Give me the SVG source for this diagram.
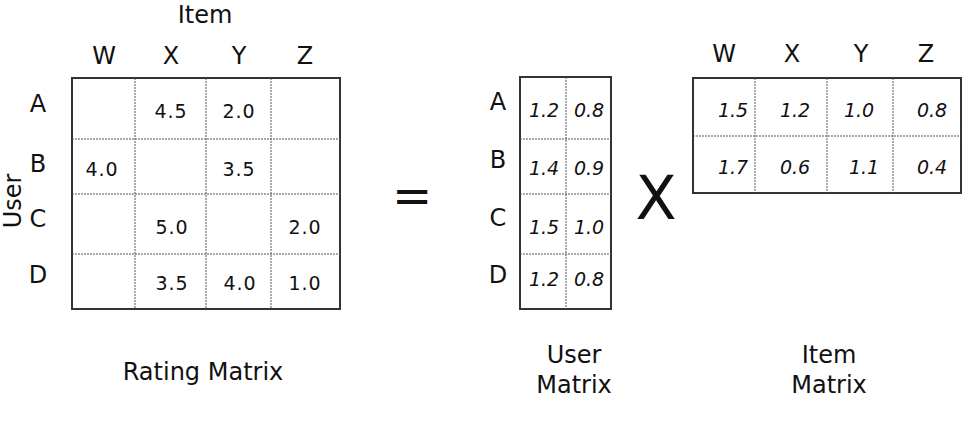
<svg xmlns="http://www.w3.org/2000/svg" width="972" height="426" viewBox="0 0 972 426">
<style>
text{font-family:"DejaVu Sans",Verdana,sans-serif;fill:#111}
.lbl{font-size:24px;text-anchor:middle}
.num{font-size:19px;text-anchor:middle;letter-spacing:1px}
.it{font-size:19px;font-style:italic;text-anchor:middle}
.box{fill:#fff;stroke:#333;stroke-width:2}
.div{stroke:#555;stroke-width:1;stroke-dasharray:2,1}
</style>
<rect width="972" height="426" fill="#fff"/>
<g id="rating">
<text class="lbl" x="205" y="23">Item</text>
<text class="lbl" x="104" y="64">W</text><text class="lbl" x="171" y="64">X</text><text class="lbl" x="239" y="64">Y</text><text class="lbl" x="305" y="64">Z</text>
<text class="lbl" transform="translate(21,201) rotate(-90)">User</text>
<text class="lbl" x="38" y="112">A</text><text class="lbl" x="38" y="172">B</text><text class="lbl" x="38" y="227">C</text><text class="lbl" x="38" y="283">D</text>
<rect class="box" x="72" y="78" width="268" height="231"/>
<line class="div" x1="135" y1="78" x2="135" y2="309"/><line class="div" x1="206" y1="78" x2="206" y2="309"/><line class="div" x1="271" y1="78" x2="271" y2="309"/>
<line class="div" x1="72" y1="139" x2="340" y2="139"/><line class="div" x1="72" y1="194" x2="340" y2="194"/><line class="div" x1="72" y1="254" x2="340" y2="254"/>
<text class="num" x="171" y="118">4.5</text><text class="num" x="239" y="118">2.0</text>
<text class="num" x="102" y="176">4.0</text><text class="num" x="239" y="176">3.5</text>
<text class="num" x="172" y="234">5.0</text><text class="num" x="305" y="234">2.0</text>
<text class="num" x="172" y="290">3.5</text><text class="num" x="240" y="290">4.0</text><text class="num" x="305" y="290">1.0</text>
<text class="lbl" x="203" y="380">Rating Matrix</text>
</g>
<g id="equals"><text x="412" y="212" style="font-size:48px;text-anchor:middle">=</text></g>
<g id="user">
<text class="lbl" x="498" y="110">A</text><text class="lbl" x="498" y="168">B</text><text class="lbl" x="498" y="226">C</text><text class="lbl" x="498" y="283">D</text>
<rect class="box" x="520" y="77" width="91" height="232"/>
<line class="div" x1="566" y1="77" x2="566" y2="309"/>
<line class="div" x1="520" y1="139" x2="611" y2="139"/><line class="div" x1="520" y1="194" x2="611" y2="194"/><line class="div" x1="520" y1="254" x2="611" y2="254"/>
<text class="it" x="544" y="117">1.2</text><text class="it" x="589" y="117">0.8</text>
<text class="it" x="544" y="175">1.4</text><text class="it" x="589" y="175">0.9</text>
<text class="it" x="544" y="234">1.5</text><text class="it" x="589" y="234">1.0</text>
<text class="it" x="544" y="286">1.2</text><text class="it" x="589" y="286">0.8</text>
<text class="lbl" x="574" y="363">User</text><text class="lbl" x="574" y="393">Matrix</text>
</g>
<g id="times"><text x="656" y="219" style="font-size:60px;text-anchor:middle">X</text></g>
<g id="item">
<text class="lbl" x="724" y="62">W</text><text class="lbl" x="792" y="62">X</text><text class="lbl" x="861" y="62">Y</text><text class="lbl" x="926" y="62">Z</text>
<rect class="box" x="693" y="78" width="268" height="115"/>
<line class="div" x1="755" y1="78" x2="755" y2="193"/><line class="div" x1="827" y1="78" x2="827" y2="193"/><line class="div" x1="893" y1="78" x2="893" y2="193"/>
<line class="div" x1="693" y1="136" x2="961" y2="136"/>
<text class="it" x="733" y="117">1.5</text><text class="it" x="795" y="117">1.2</text><text class="it" x="859" y="117">1.0</text><text class="it" x="932" y="117">0.8</text>
<text class="it" x="733" y="174">1.7</text><text class="it" x="795" y="174">0.6</text><text class="it" x="864" y="174">1.1</text><text class="it" x="932" y="174">0.4</text>
<text class="lbl" x="829" y="363">Item</text><text class="lbl" x="829" y="393">Matrix</text>
</g>
</svg>
